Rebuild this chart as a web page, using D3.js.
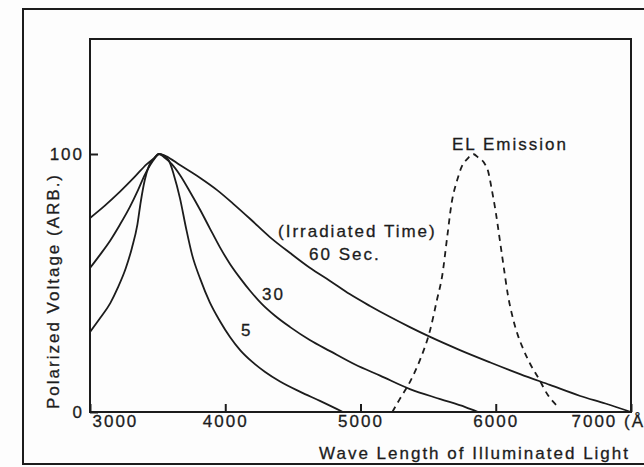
<!DOCTYPE html>
<html>
<head>
<meta charset="utf-8">
<script src="https://cdn.jsdelivr.net/npm/d3@7"></script>
<style>
  body { margin: 0; background: #fdfdfd; }
  text { font-family: "Liberation Sans", Arial, sans-serif; fill: #1c1c1c; stroke: #1c1c1c; stroke-width: 0.3px; }
</style>
</head>
<body>
<div id="chart"></div>
<script>
var width = 644;
var height = 467;
var margin = {top: 39, left: 90, right: 13, bottom: 55};

// wave length (Angstrom) vs polarized voltage (arb.)
var wave60 = [3000, 3110, 3220, 3330, 3420, 3475, 3510, 3560, 3665, 3815, 3940, 4070, 4185, 4330, 4480, 4625, 4775, 4920, 5070, 5220, 5365, 5515, 5735, 5960, 6180, 6400, 6625, 6810, 7000];
var volt60 = [75.2, 80, 85.3, 91.1, 96.1, 98.4, 100, 99.2, 95.7, 90.7, 86, 80.2, 74.8, 67.8, 61.6, 55.9, 50.8, 45.7, 41.1, 36.8, 32.9, 29.1, 24, 19.2, 14.7, 10.5, 6.2, 3.3, 0];

var wave30 = [3000, 3075, 3150, 3220, 3295, 3355, 3405, 3445, 3480, 3510, 3555, 3605, 3665, 3740, 3815, 3885, 3960, 4035, 4110, 4185, 4270, 4370, 4480, 4625, 4775, 4960, 5145, 5365, 5590, 5775, 5870];
var volt30 = [55.8, 61, 66.5, 72.5, 79.5, 86, 91.9, 95.7, 98.4, 100, 98.4, 96.1, 91.9, 85.3, 78.3, 71.3, 63.9, 57.4, 51.9, 46.9, 41.9, 37.2, 32.9, 27.9, 23.6, 18.4, 14.1, 8.9, 5, 1.9, 0];

var wave5 = [3000, 3075, 3150, 3205, 3265, 3310, 3350, 3375, 3405, 3435, 3475, 3510, 3580, 3620, 3665, 3710, 3755, 3815, 3885, 3960, 4035, 4110, 4200, 4295, 4405, 4555, 4700, 4870];
var volt5 = [31, 36.4, 42.2, 48.1, 55.8, 63.6, 72.5, 81.4, 89.9, 95.3, 98.4, 100, 97.7, 91.9, 82.9, 71.3, 60.9, 51.6, 42.6, 35.3, 29.1, 24, 19.4, 15.5, 11.8, 7.8, 4.3, 0];

var waveEL = [5235, 5290, 5365, 5440, 5515, 5565, 5605, 5640, 5675, 5715, 5750, 5790, 5832, 5875, 5915, 5945, 5970, 6000, 6030, 6060, 6090, 6130, 6165, 6200, 6255, 6315, 6385, 6455];
var voltEL = [0, 5, 11.6, 20.2, 31.8, 43.4, 53.1, 67.4, 81.4, 89.9, 95.3, 98.1, 100, 98.4, 96.5, 93, 86.4, 77.5, 66.7, 55.8, 45.3, 35.7, 29.5, 24.8, 18.6, 13.2, 6.6, 2.3];

var xTicks = [3000, 4000, 5000, 6000, 7000];
var xTickLabels = ["3000", "4000", "5000", "6000", "7000 (Å)"];
var yTicks = [0, 100];

var svg = d3.select("#chart")
  .append("svg")
  .attr("width", width)
  .attr("height", height);

var xScale = d3.scaleLinear()
  .domain([3000, 7000])
  .range([margin.left, width - margin.right]);

var yScale = d3.scaleLinear()
  .domain([0, 100])
  .range([412, 154]);

// outer frame of the figure
svg.append("rect")
  .attr("x", 23).attr("y", 9)
  .attr("width", 700).attr("height", 455)
  .attr("fill", "none")
  .attr("stroke", "#1c1c1c")
  .attr("stroke-width", 2);

// plot box
svg.append("rect")
  .attr("x", margin.left).attr("y", margin.top)
  .attr("width", width - margin.right - margin.left)
  .attr("height", 412 - margin.top)
  .attr("fill", "none")
  .attr("stroke", "#1c1c1c")
  .attr("stroke-width", 2);

var xAxis = svg.append("g")
  .attr("transform", "translate(0,412)")
  .call(d3.axisBottom(xScale)
    .tickValues(xTicks)
    .tickSizeInner(-8)
    .tickSizeOuter(0)
    .tickPadding(3)
    .tickFormat(function(d, i) { return xTickLabels[i]; }));

var yAxis = svg.append("g")
  .attr("transform", "translate(" + margin.left + ",0)")
  .call(d3.axisLeft(yScale)
    .tickValues(yTicks)
    .tickSizeInner(-8)
    .tickSizeOuter(0)
    .tickPadding(6));

svg.selectAll(".domain").remove();
svg.selectAll(".tick line").attr("stroke", "#1c1c1c").attr("stroke-width", 2);
svg.selectAll(".tick text")
  .attr("font-size", 17)
  .attr("letter-spacing", 2)
  .attr("fill", "#1c1c1c");

// end labels sit inside the axis span; the unit runs off the right edge as in the scan
xAxis.selectAll(".tick text")
  .filter(function(d) { return d === 3000; })
  .attr("text-anchor", "start").attr("dx", 2);
xAxis.selectAll(".tick text")
  .filter(function(d) { return d === 7000; })
  .attr("text-anchor", "start").attr("dx", -60);

var line = d3.line()
  .x(function(d) { return xScale(d[0]); })
  .y(function(d) { return yScale(d[1]); })
  .curve(d3.curveMonotoneX);

var series = [
  {w: wave60, v: volt60, dash: null},
  {w: wave30, v: volt30, dash: null},
  {w: wave5, v: volt5, dash: null},
  {w: waveEL, v: voltEL, dash: "6,5"}
];

svg.selectAll(".curve")
  .data(series)
  .enter()
  .append("path")
    .attr("class", "curve")
    .attr("d", function(s) { return line(d3.zip(s.w, s.v)); })
    .attr("fill", "none")
    .attr("stroke", "#1c1c1c")
    .attr("stroke-width", 1.8)
    .attr("stroke-dasharray", function(s) { return s.dash; });

// annotations
var notes = [
  {t: "EL Emission", x: 452, y: 150},
  {t: "(Irradiated Time)", x: 278, y: 237},
  {t: "60 Sec.", x: 309, y: 260},
  {t: "30", x: 262, y: 300},
  {t: "5", x: 241, y: 336}
];

svg.selectAll(".note")
  .data(notes)
  .enter()
  .append("text")
    .attr("class", "note")
    .attr("x", function(d) { return d.x; })
    .attr("y", function(d) { return d.y; })
    .attr("font-size", 17)
    .attr("letter-spacing", 2)
    .text(function(d) { return d.t; });

svg.append("text")
  .attr("x", 630)
  .attr("y", 459)
  .attr("text-anchor", "end")
  .attr("font-size", 17)
  .attr("letter-spacing", 2)
  .text("Wave Length of Illuminated Light");

svg.append("text")
  .attr("transform", "translate(59,291) rotate(-90)")
  .attr("text-anchor", "middle")
  .attr("font-size", 17)
  .attr("letter-spacing", 2)
  .text("Polarized Voltage (ARB.)");
</script>
</body>
</html>
